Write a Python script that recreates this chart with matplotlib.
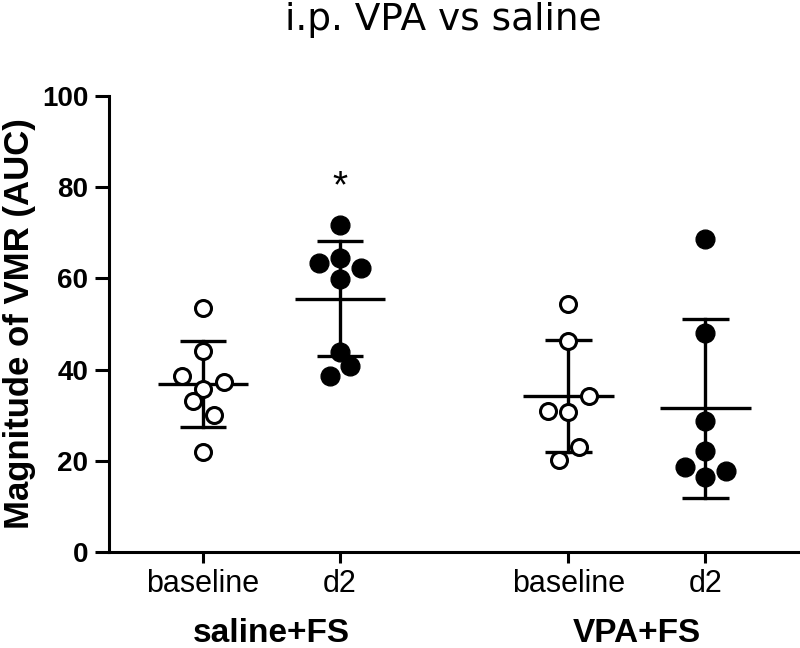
import numpy as np
import matplotlib
matplotlib.use('Agg')
import matplotlib.pyplot as plt
from matplotlib.transforms import blended_transform_factory

# Data (VMR magnitude, AUC)
saline_baseline = [53.6, 44.1, 38.6, 37.2, 35.7, 33.2, 30.1, 21.9]
saline_d2 = [71.7, 64.5, 63.3, 62.3, 59.8, 43.8, 40.8, 38.5]
vpa_baseline = [54.3, 46.3, 34.3, 31.0, 30.6, 23.0, 20.1]
vpa_d2 = [68.7, 48.0, 28.8, 22.1, 18.6, 17.7, 16.4]

tick_labels = ['baseline', 'd2', 'baseline', 'd2']
group_labels = ['saline+FS', 'VPA+FS']
yticks = [0, 20, 40, 60, 80, 100]

# layout
xpos = [1.0, 2.0, 3.667, 4.667]
jitter = [
    [0, 0, -0.15, 0.15, 0, -0.07, 0.08, 0],
    [0, 0, -0.15, 0.15, 0, 0, 0.07, -0.07],
    [0, 0, 0.15, -0.15, 0, 0.08, -0.07],
    [0, 0, 0, 0, -0.15, 0.15, 0],
]
filled = [False, True, False, True]

plt.rcParams['font.family'] = ['Liberation Sans', 'DejaVu Sans']

fig = plt.figure(figsize=(8, 6.48), dpi=100)
ax = fig.add_axes([109 / 800, 1 - 552 / 648, 1 - 109 / 800, (552 - 96) / 648])

groups = [saline_baseline, saline_d2, vpa_baseline, vpa_d2]
for x, vals, jit, fill in zip(xpos, groups, jitter, filled):
    vals = np.array(vals)
    m = vals.mean()
    sd = vals.std(ddof=1)
    # mean line, SD whisker and caps
    ax.plot([x - 0.33, x + 0.33], [m, m], color='k', lw=2.4, zorder=2, solid_capstyle='butt')
    ax.plot([x, x], [m - sd, m + sd], color='k', lw=2.4, zorder=2)
    for y in (m - sd, m + sd):
        ax.plot([x - 0.17, x + 0.17], [y, y], color='k', lw=2.4, zorder=2, solid_capstyle='butt')
    xs = x + np.array(jit)
    if fill:
        ax.plot(xs, vals, 'o', ls='None', ms=13.5, mfc='k', mec='k', zorder=3)
    else:
        ax.plot(xs, vals, 'o', ls='None', ms=11.5, mfc='white', mec='k', mew=2.2, zorder=3)

ax.text(xpos[1], 80.0, '*', ha='center', va='center', fontsize=28)

ax.set_ylim(0, 100)
ax.set_xlim(0.314, 5.358)
ax.set_yticks(yticks)
ax.set_yticklabels([str(t) for t in yticks], fontsize=20, fontweight='bold')
ax.set_xticks(xpos)
ax.set_xticklabels(tick_labels, fontsize=22)
ax.tick_params(axis='y', length=10, width=2.2, pad=5)
ax.tick_params(axis='x', length=8, width=2.2, pad=4)
for s in ['top', 'right']:
    ax.spines[s].set_visible(False)
for s in ['left', 'bottom']:
    ax.spines[s].set_linewidth(2.2)

fig.text(20 / 800, 1 - 324 / 648, 'Magnitude of VMR (AUC)', rotation=90,
         ha='center', va='center', fontsize=25, fontweight='bold')

# group labels under tick labels
trans = blended_transform_factory(ax.transData, fig.transFigure)
for i, lab in enumerate(group_labels):
    xc = (xpos[2 * i] + xpos[2 * i + 1]) / 2
    ax.text(xc, 1 - 642 / 648, lab, ha='center', va='baseline', fontsize=24,
            fontweight='bold', transform=trans, clip_on=False)

fig.text(443 / 800, 1 - 30 / 648, 'i.p. VPA vs saline', ha='center', va='baseline',
         fontsize=27, family=['DejaVu Sans'])

fig.savefig('out.png', dpi=100)
